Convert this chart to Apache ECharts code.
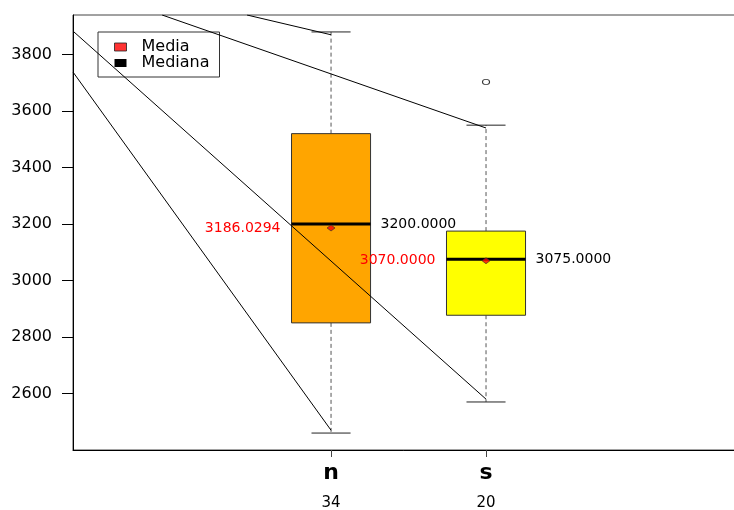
<!DOCTYPE html>
<html>
<head>
<meta charset="utf-8">
<script src="https://cdn.jsdelivr.net/npm/echarts@6/dist/echarts.min.js"></script>
<style>
html, body { margin: 0; padding: 0; background: #fff; }
#chart { width: 734px; height: 510px; }
</style>
</head>
<body>
<div id="chart"></div>
<script>
// Groups and their sample sizes
const categories = ['n', 's'];
const counts = [34, 20];

// Five-number summaries per group
const lowerWhisker = [2460, 2570];
const q1 = [2850, 2877];
const median = [3200, 3075];
const q3 = [3520, 3175];
const upperWhisker = [3880, 3550];

// Group means
const means = [3186.0294, 3070];

// Points beyond the whiskers: group index and value
const outlierGroup = [1];
const outlierValues = [3703];

// Y-axis tick values
const yTicks = [2600, 2800, 3000, 3200, 3400, 3600, 3800];

// Straight reference segments [x0, y0, x1, y1] in axis units (group n = 1, s = 2)
const segments = [
  [-0.665, 3883, 2, 2580],
  [-0.665, 3738, 1, 2470],
  [-0.090, 3940, 2, 3540],
  [0.458, 3940, 1, 3870]
];

const boxColors = ['#FFA500', '#FFFF00'];
const FONT = '"DejaVu Sans", "Liberation Sans", Arial, sans-serif';

const chart = echarts.init(document.getElementById('chart'), null, { renderer: 'canvas' });

const boxData = categories.map((c, i) => [
  i + 1, lowerWhisker[i], q1[i], median[i], q3[i], upperWhisker[i], means[i]
]);

function renderBox(params, api) {
  const i = params.dataIndex;
  const x = api.value(0);
  const halfBox = 0.255;
  const halfCap = 0.126;
  const cx = api.coord([x, api.value(1)])[0];
  const yLo = api.coord([x, api.value(1)])[1];
  const yQ1 = api.coord([x, api.value(2)])[1];
  const yMed = api.coord([x, api.value(3)])[1];
  const yQ3 = api.coord([x, api.value(4)])[1];
  const yHi = api.coord([x, api.value(5)])[1];
  const yMean = api.coord([x, api.value(6)])[1];
  const left = api.coord([x - halfBox, api.value(3)])[0];
  const right = api.coord([x + halfBox, api.value(3)])[0];
  const capL = api.coord([x - halfCap, api.value(3)])[0];
  const capR = api.coord([x + halfCap, api.value(3)])[0];
  const dash = { stroke: '#555', lineWidth: 1, lineDash: [4, 3] };
  const cap = { stroke: '#222', lineWidth: 1 };
  return {
    type: 'group',
    children: [
      { type: 'line', shape: { x1: cx, y1: yQ3, x2: cx, y2: yHi }, style: dash },
      { type: 'line', shape: { x1: cx, y1: yQ1, x2: cx, y2: yLo }, style: dash },
      { type: 'line', shape: { x1: capL, y1: yHi, x2: capR, y2: yHi }, style: cap },
      { type: 'line', shape: { x1: capL, y1: yLo, x2: capR, y2: yLo }, style: cap },
      {
        type: 'rect',
        shape: { x: left, y: yQ3, width: right - left, height: yQ1 - yQ3 },
        style: { fill: boxColors[i], stroke: '#333', lineWidth: 1 }
      },
      { type: 'line', shape: { x1: left, y1: yMed, x2: right, y2: yMed }, style: { stroke: '#000', lineWidth: 3 } },
      {
        type: 'text',
        style: {
          text: api.value(3).toFixed(4), x: right + 10, y: yMed,
          align: 'left', verticalAlign: 'middle', fill: '#000',
          fontSize: 14, fontFamily: FONT
        }
      },
      {
        type: 'text',
        style: {
          text: api.value(6).toFixed(4), x: left - 11, y: yMean,
          align: 'right', verticalAlign: 'middle', fill: '#FF0000',
          fontSize: 14, fontFamily: FONT
        }
      }
    ]
  };
}

const segmentSeries = segments.map((s, k) => ({
  name: 'segment' + k,
  type: 'line',
  data: [[s[0], s[1]], [s[2], s[3]]],
  showSymbol: false,
  symbol: 'none',
  lineStyle: { color: '#000', width: 1 },
  clip: true,
  silent: true,
  z: 4
}));

const option = {
  animation: false,
  backgroundColor: '#fff',
  grid: {
    left: 73, top: 15, width: 663, height: 435,
    show: true, borderColor: '#444', borderWidth: 1,
    containLabel: false, outerBoundsMode: 'none'
  },
  legend: {
    orient: 'vertical',
    left: 98, top: 32,
    padding: [7, 10, 6, 16],
    itemGap: 0,
    itemWidth: 12, itemHeight: 8,
    borderColor: '#333', borderWidth: 1,
    selectedMode: false,
    textStyle: { fontFamily: FONT, fontSize: 16, color: '#000', padding: [0, 0, 0, 10], lineHeight: 15 },
    data: [
      { name: 'Media', icon: 'rect', itemStyle: { color: '#FF0000', borderColor: '#222', borderWidth: 1 } },
      { name: 'Mediana', icon: 'rect', itemStyle: { color: '#000', borderWidth: 0 } }
    ]
  },
  xAxis: {
    type: 'value',
    min: -0.665, max: 3.613,
    splitLine: { show: false },
    axisLine: { show: true, onZero: false, lineStyle: { color: '#000', width: 1 } },
    axisTick: { show: true, customValues: [1, 2], length: 7, lineStyle: { color: '#444' } },
    axisLabel: {
      customValues: [1, 2],
      margin: 8,
      formatter: v => {
        const i = Math.round(v) - 1;
        return '{cat|' + categories[i] + '}\n{cnt|' + counts[i] + '}';
      },
      rich: {
        cat: { fontFamily: FONT, fontWeight: 'bold', fontSize: 22, lineHeight: 30, color: '#000' },
        cnt: { fontFamily: FONT, fontSize: 15, lineHeight: 30, color: '#000' }
      }
    }
  },
  yAxis: {
    type: 'value',
    min: 2400, max: 3940, interval: 200,
    splitLine: { show: false },
    axisLine: { show: true, onZero: false, lineStyle: { color: '#000', width: 1 } },
    axisTick: { show: true, customValues: yTicks, length: 11, lineStyle: { color: '#000' } },
    axisLabel: {
      customValues: yTicks, margin: 21, fontFamily: FONT, fontSize: 16, color: '#000',
      formatter: v => String(v)
    }
  },
  series: [
    {
      name: 'Mediana',
      type: 'custom',
      renderItem: renderBox,
      data: boxData,
      encode: { x: 0, y: [1, 2, 3, 4, 5] },
      itemStyle: { color: '#000' },
      z: 2
    },
    ...segmentSeries,
    {
      name: 'outliers',
      type: 'scatter',
      data: outlierGroup.map((g, k) => [g + 1, outlierValues[k]]),
      symbol: 'circle',
      symbolSize: [7, 5],
      itemStyle: { color: '#fff', borderColor: '#000', borderWidth: 1 },
      z: 5
    },
    {
      name: 'Media',
      type: 'scatter',
      data: means.map((m, i) => [i + 1, m]),
      symbol: 'diamond',
      symbolSize: [8, 6],
      itemStyle: { color: '#FF0000', borderColor: '#333', borderWidth: 0.8 },
      z: 6
    }
  ]
};

chart.setOption(option);
</script>
</body>
</html>
